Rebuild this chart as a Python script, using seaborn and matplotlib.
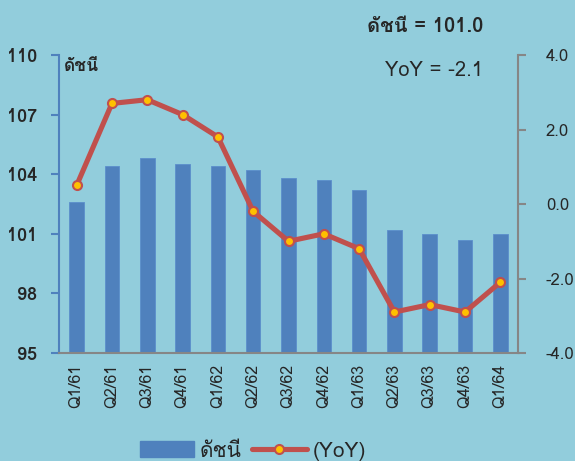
import matplotlib
matplotlib.use("Agg")
import matplotlib.pyplot as plt
from matplotlib import font_manager
from matplotlib.patches import Patch
from matplotlib.lines import Line2D
import seaborn as sns
import pandas as pd
import numpy as np

quarters = ["Q1/61", "Q2/61", "Q3/61", "Q4/61", "Q1/62", "Q2/62", "Q3/62",
            "Q4/62", "Q1/63", "Q2/63", "Q3/63", "Q4/63", "Q1/64"]
index_values = [102.6, 104.4, 104.8, 104.5, 104.4, 104.2, 103.8,
                103.7, 103.2, 101.2, 101.0, 100.7, 101.0]
yoy_values = [0.5, 2.7, 2.8, 2.4, 1.8, -0.2, -1.0,
              -0.8, -1.2, -2.9, -2.7, -2.9, -2.1]
left_ticks = [95, 98, 101, 104, 107, 110]
right_ticks = [-4.0, -2.0, 0.0, 2.0, 4.0]

# find a font that has Thai glyphs
thai_font = None
try:
    from fontTools.ttLib import TTFont
    for fe in font_manager.fontManager.ttflist:
        try:
            f = TTFont(fe.fname, fontNumber=0, lazy=True)
            cmap = f.getBestCmap()
            if cmap and 0x0E14 in cmap and 0x0E0A in cmap:
                thai_font = fe.name
                break
        except Exception:
            continue
except Exception:
    pass
fam = ([thai_font] if thai_font else []) + ["DejaVu Sans"]

sns.set_theme(style="white")
plt.rcParams["font.family"] = fam

bg = "#92CDDC"
bar_color = "#4F81BD"
line_color = "#C0504D"
marker_color = "#FFC000"
grey = "#868686"

df = pd.DataFrame({"quarter": quarters, "index": index_values, "yoy": yoy_values})

fig = plt.figure(figsize=(5.75, 4.61), dpi=100, facecolor=bg)
ax = fig.add_axes([59/575, 1-353/461, (518-59)/575, (353-55)/461])
ax.set_facecolor(bg)

sns.barplot(data=df, x="quarter", y="index", color=bar_color, saturation=1,
            width=0.41, ax=ax, edgecolor="#5B8FCB", linewidth=0.6)
ax.set_ylim(95, 110)
ax.set_yticks(left_ticks)
ax.set_yticklabels([str(t) for t in left_ticks], fontweight="bold", fontsize=13)
ax.set_xlabel("")
ax.set_ylabel("")
ax.tick_params(axis="x", rotation=90, labelsize=11.5, length=0, pad=8)
ax.tick_params(axis="y", length=6, width=1.5, color=bar_color, direction="out", pad=10)
for lbl in ax.get_xticklabels():
    lbl.set_family(fam)

ax2 = ax.twinx()
sns.pointplot(data=df, x="quarter", y="yoy", color=line_color, ax=ax2,
              markers="o", linewidth=3.7, markersize=6.5,
              markerfacecolor=marker_color, markeredgecolor=line_color,
              markeredgewidth=1.5)
ax2.set_ylim(-4.0, 4.0)
ax2.set_yticks(right_ticks)
ax2.set_yticklabels([f"{t:.1f}" for t in right_ticks], fontsize=12)
ax2.set_ylabel("")
ax2.set_xlabel("")
ax2.tick_params(axis="y", length=6, width=1.5, color=grey, direction="out", pad=14)
ax2.set_xlim(-0.5, len(quarters) - 0.5)

for a in (ax, ax2):
    a.spines["top"].set_visible(False)
    a.grid(False)
ax.spines["left"].set_color(bar_color)
ax.spines["left"].set_linewidth(1.5)
ax.spines["right"].set_visible(False)
ax.spines["bottom"].set_color(grey)
ax.spines["bottom"].set_linewidth(1.5)
ax2.spines["left"].set_visible(False)
ax2.spines["bottom"].set_visible(False)
ax2.spines["right"].set_color(grey)
ax2.spines["right"].set_linewidth(1.5)

ax.text(0.01, 0.985, "ดัชนี", transform=ax.transAxes, ha="left", va="top",
        fontsize=12.5, fontweight="bold", family=fam)
fig.text(483/575, 1-26/461, f"ดัชนี = {index_values[-1]:.1f}", ha="right", va="center",
         fontsize=14.5, fontweight="bold", family=fam)
fig.text(483/575, 1-71/461, f"YoY = {yoy_values[-1]:.1f}", ha="right", va="center",
         fontsize=14.5, family=fam)

handles = [Patch(facecolor=bar_color, edgecolor=bar_color),
           Line2D([0], [0], color=line_color, linewidth=3.7, marker="o",
                  markersize=6.5, markerfacecolor=marker_color,
                  markeredgecolor=line_color, markeredgewidth=1.5)]
fig.legend(handles, ["ดัชนี", "(YoY)"], loc="center", ncol=2,
           bbox_to_anchor=(253/575, 1-451/461), frameon=False, fontsize=15,
           handlelength=2.6, handleheight=0.8, columnspacing=0.5, handletextpad=0.3)

fig.savefig("out.png", dpi=100, facecolor=bg)
